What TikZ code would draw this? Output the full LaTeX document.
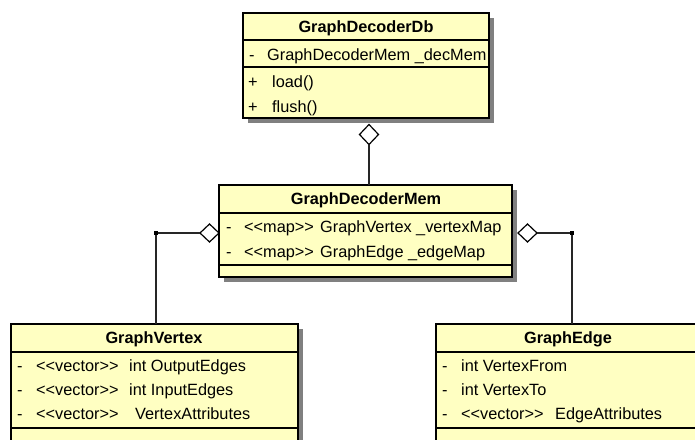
\documentclass[tikz,border=0pt]{standalone}
\usepackage{fontspec}
\setmainfont{Liberation Sans}
\usetikzlibrary{shapes.geometric}
\definecolor{umlfill}{RGB}{255,255,194}
\definecolor{umlshadow}{RGB}{128,128,128}
\tikzset{
  umlbox/.style={draw=black, line width=1.6pt, fill=umlfill, inner sep=0pt, outer sep=0pt, anchor=north west},
  shadowbox/.style={fill=umlshadow, draw=none},
  sepline/.style={draw=black, line width=1.6pt},
  title/.style={font=\fontsize{16.3}{19}\selectfont\bfseries, inner sep=0pt, anchor=base},
  row/.style={font=\fontsize{16.3}{19}\selectfont, inner sep=0pt, anchor=base west},
  agg/.style={diamond, draw=black, fill=white, line width=1.2pt, inner sep=0pt, outer sep=0pt},
  conn/.style={draw=black!85, line width=1.5pt},
  dot/.style={fill=black, inner sep=0pt, minimum size=4.5pt, rectangle}
}
\begin{document}
\begin{tikzpicture}[x=1pt,y=-1pt]
\useasboundingbox (0,0) rectangle (695,439);
\clip (0,0) rectangle (695,439);
\fill[white] (0,0) rectangle (695,439);
% shadows
\fill[shadowbox] (248,18) rectangle (494,123);
\fill[shadowbox] (224,190) rectangle (517,282);
\fill[shadowbox] (16,329) rectangle (303,460);
\fill[shadowbox] (441,329) rectangle (710,460);
% boxes
\node[umlbox, minimum width=246pt, minimum height=105pt] (db) at (243,13) {};
\node[umlbox, minimum width=293pt, minimum height=92pt] (mem) at (219,185) {};
\node[umlbox, minimum width=287pt, minimum height=130pt] (vtx) at (11,324) {};
\node[umlbox, minimum width=270pt, minimum height=130pt] (edg) at (436,324) {};
% separators
\draw[sepline] (243,40) -- (489,40);
\draw[sepline] (243,67) -- (489,67);
\draw[sepline] (219,213) -- (512,213);
\draw[sepline] (219,265) -- (512,265);
\draw[sepline] (11,352) -- (298,352);
\draw[sepline] (11,428) -- (298,428);
\draw[sepline] (436,352) -- (706,352);
\draw[sepline] (436,428) -- (706,428);
% texts: GraphDecoderDb
\node[title] (dbt) at (366,32) {GraphDecoderDb};
\node[row] (dba1) at (249,60) {-};
\node[row] (dba2) at (267,60) {GraphDecoderMem \_decMem};
\node[row] (dbm1) at (248,87) {+};
\node[row] (dbm2) at (272,87) {load()};
\node[row] (dbm3) at (248,112) {+};
\node[row] (dbm4) at (272,112) {flush()};
% GraphDecoderMem
\node[title] (memt) at (366,204) {GraphDecoderMem};
\node[row] (mema1) at (226,232) {-};
\node[row] (mema2) at (244,232) {<{}<map>{}>};
\node[row] (mema3) at (320,232) {GraphVertex \_vertexMap};
\node[row] (memb1) at (226,257) {-};
\node[row] (memb2) at (244,257) {<{}<map>{}>};
\node[row] (memb3) at (320,257) {GraphEdge \_edgeMap};
% GraphVertex
\node[title] (vtxt) at (154,343) {GraphVertex};
\node[row] (vtxa1) at (17,371) {-};
\node[row] (vtxa2) at (36,371) {<{}<vector>{}>};
\node[row] (vtxa3) at (129,371) {int OutputEdges};
\node[row] (vtxb1) at (17,395) {-};
\node[row] (vtxb2) at (36,395) {<{}<vector>{}>};
\node[row] (vtxb3) at (129,395) {int InputEdges};
\node[row] (vtxc1) at (17,419) {-};
\node[row] (vtxc2) at (36,419) {<{}<vector>{}>};
\node[row] (vtxc3) at (135,419) {VertexAttributes};
% GraphEdge
\node[title] (edgt) at (568,343) {GraphEdge};
\node[row] (edga1) at (442,371) {-};
\node[row] (edga2) at (461,371) {int VertexFrom};
\node[row] (edgb1) at (442,395) {-};
\node[row] (edgb2) at (461,395) {int VertexTo};
\node[row] (edgc1) at (442,419) {-};
\node[row] (edgc2) at (461,419) {<{}<vector>{}>};
\node[row] (edgc3) at (555,419) {EdgeAttributes};
% aggregation diamonds
\node[agg, minimum width=19pt, minimum height=20pt] (d1) at (369,134.5) {};
\node[agg, minimum width=19pt, minimum height=18pt] (d2) at (209.5,233) {};
\node[agg, minimum width=19pt, minimum height=18pt] (d3) at (527.5,233) {};
\coordinate (c1) at (369,185);
\coordinate (bl) at (156,233);
\coordinate (br) at (572,233);
% connectors
\draw[conn] (d1.south) -- (c1);
\draw[conn] (d2.west) -- (bl) -- (bl |- vtx.north);
\draw[conn] (d3.east) -- (br) -- (br |- edg.north);
\node[dot] (bld) at (bl) {};
\node[dot] (brd) at (br) {};
\end{tikzpicture}
\end{document}
